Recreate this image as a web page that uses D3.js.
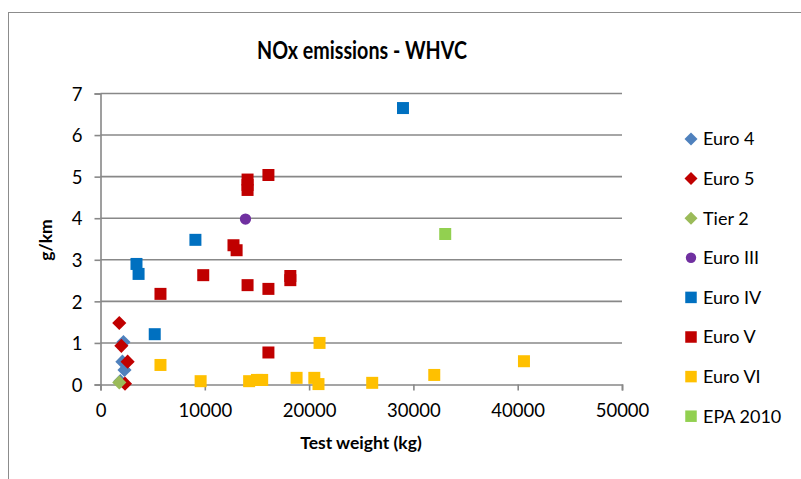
<!DOCTYPE html>
<html>
<head>
<meta charset="utf-8">
<script src="https://cdn.jsdelivr.net/npm/d3@7"></script>
<style>
html,body{margin:0;padding:0;background:#fff;}
svg{display:block;}
text{font-family:Lato,"Noto Sans",sans-serif;fill:#000;}
</style>
</head>
<body>
<svg id="chart" width="801" height="479"></svg>
<script>
// ---- data ----
const seriesNames = ["Euro 4","Euro 5","Tier 2","Euro III","Euro IV","Euro V","Euro VI","EPA 2010"];
const euro4   = [[2200,1.02],[2100,0.55],[2300,0.35],[1900,0.08]];
const euro5   = [[1800,1.48],[2000,0.93],[2600,0.55],[2350,0.02]];
const tier2   = [[1800,0.05]];
const euroIII = [[13900,3.98]];
const euroIV  = [[29000,6.65],[9100,3.48],[3450,2.90],[3650,2.66],[5200,1.21]];
const euroV   = [[5750,2.18],[9850,2.63],[12750,3.35],[13050,3.23],[14100,4.93],[14100,4.80],[14100,4.68],
                 [16100,5.04],[14100,2.39],[16100,2.30],[18200,2.61],[18200,2.51],[16100,0.77]];
const euroVI  = [[5750,0.47],[9600,0.08],[14250,0.08],[15000,0.11],[15500,0.11],[18800,0.16],[20500,0.16],
                 [20900,0.01],[21000,1.00],[26050,0.04],[32000,0.23],[40600,0.56]];
const epa2010 = [[33050,3.62]];
const xTicks = [0,10000,20000,30000,40000,50000];
const yTicks = [0,1,2,3,4,5,6,7];

const seriesData = [euro4,euro5,tier2,euroIII,euroIV,euroV,euroVI,epa2010];
const colors = ["#4F81BD","#C00000","#9BBB59","#7030A0","#0070C0","#C00000","#FFC000","#92D050"];
const shapes = ["diamond","diamond","diamond","circle","square","square","square","square"];

// ---- layout ----
const svg = d3.select("#chart");
const x = d3.scaleLinear().domain([0,50000]).range([100.5,622]);
const y = d3.scaleLinear().domain([0,7]).range([384.5,93.5]);

// chart border
svg.append("rect").attr("x",8.5).attr("y",12.5).attr("width",800).attr("height",470)
  .attr("fill","none").attr("stroke","#8c8c8c").attr("stroke-width",1);

// title (horizontally condensed to mimic Calibri)
svg.append("text").attr("transform","translate(362,59) scale(0.82,1)").attr("text-anchor","middle")
  .attr("font-size",24).attr("font-weight","bold").text("NOx emissions - WHVC");

// gridlines
svg.append("g").selectAll("line").data(yTicks.filter(d=>d>0)).join("line")
  .attr("x1",x(0)).attr("x2",x(50000)).attr("y1",d=>y(d)).attr("y2",d=>y(d))
  .attr("stroke","#888").attr("stroke-width",1.6);

// axes
const yAxis = d3.axisLeft(y).tickValues(yTicks).tickSize(6).tickPadding(12).tickFormat(d3.format("d"));
const gy = svg.append("g").attr("transform",`translate(${x(0)},0)`).call(yAxis);
const xAxis = d3.axisBottom(x).tickValues(xTicks).tickSize(6).tickPadding(9).tickFormat(d3.format("d"));
const gx = svg.append("g").attr("transform",`translate(0,${y(0)})`).call(xAxis);
[gx,gy].forEach(g=>{
  g.select(".domain").attr("stroke","#888").attr("stroke-width",1.6);
  g.selectAll(".tick line").attr("stroke","#888").attr("stroke-width",1.6);
  g.selectAll(".tick text").attr("font-family","Lato, sans-serif").attr("font-size",18.5).attr("fill","#000");
});
gy.selectAll(".tick text").attr("dy","0.36em");
gx.selectAll(".tick text").attr("dy","0.95em");

// axis titles
svg.append("text").attr("x",361).attr("y",449).attr("text-anchor","middle")
  .attr("font-size",17.5).attr("font-weight","bold").text("Test weight (kg)");
svg.append("text").attr("transform","translate(52,240) rotate(-90)").attr("text-anchor","middle")
  .attr("font-size",17.5).attr("font-weight","bold").text("g/km");

function symbolPath(shape, scale){
  if(shape==="diamond") return d3.symbol().type(d3.symbolSquare).size(100*scale)();
  if(shape==="circle") return d3.symbol().type(d3.symbolCircle).size(100*scale)();
  return d3.symbol().type(d3.symbolSquare).size(144*scale)();
}

// points (draw in series order)
seriesData.forEach((data,i)=>{
  svg.append("g").selectAll("path").data(data).join("path")
    .attr("d",symbolPath(shapes[i],1))
    .attr("transform",d=>`translate(${x(d[0])},${y(d[1])})${shapes[i]==="diamond"?" rotate(45)":""}`)
    .attr("fill",colors[i]);
});

// legend
const leg = svg.append("g");
seriesNames.forEach((name,i)=>{
  const cy = 139 + i*39.6;
  leg.append("path")
    .attr("d",symbolPath(shapes[i], shapes[i]==="square"?0.92:0.85))
    .attr("transform",`translate(691,${cy})${shapes[i]==="diamond"?" rotate(45)":""}`)
    .attr("fill",colors[i]);
  leg.append("text").attr("x",703).attr("y",cy).attr("dy","0.36em")
    .attr("font-size",18).text(name);
});
</script>
</body>
</html>
